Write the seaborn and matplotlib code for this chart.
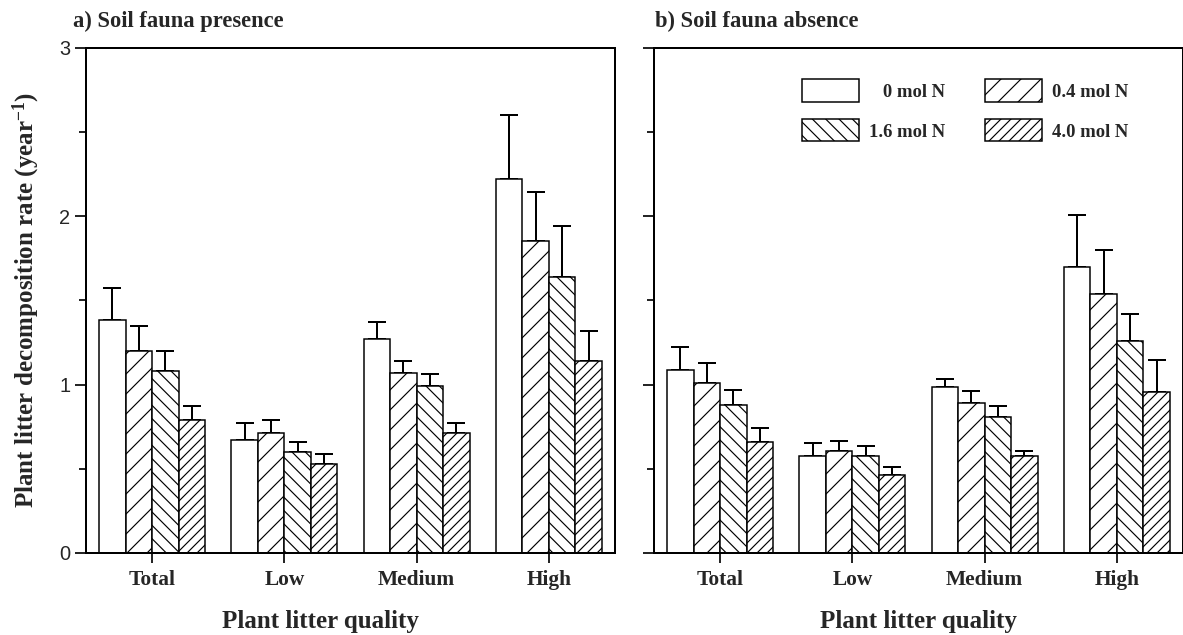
import numpy as np
import pandas as pd
import matplotlib
matplotlib.use("Agg")
import matplotlib.pyplot as plt
import seaborn as sns

# ---------------- data ----------------
categories = ["Total", "Low", "Medium", "High"]
levels = ["0 mol N", "0.4 mol N", "1.6 mol N", "4.0 mol N"]
legend_labels = ["   0 mol N", "0.4 mol N", "1.6 mol N", "4.0 mol N"]

presence_mean = {
    "0 mol N":   [1.38, 0.67, 1.27, 2.22],
    "0.4 mol N": [1.20, 0.71, 1.07, 1.85],
    "1.6 mol N": [1.08, 0.60, 0.99, 1.64],
    "4.0 mol N": [0.79, 0.53, 0.71, 1.14],
}
presence_se = {
    "0 mol N":   [0.19, 0.10, 0.10, 0.38],
    "0.4 mol N": [0.145, 0.08, 0.07, 0.29],
    "1.6 mol N": [0.12, 0.06, 0.07, 0.30],
    "4.0 mol N": [0.08, 0.06, 0.06, 0.18],
}
absence_mean = {
    "0 mol N":   [1.085, 0.575, 0.985, 1.695],
    "0.4 mol N": [1.01, 0.605, 0.89, 1.535],
    "1.6 mol N": [0.88, 0.573, 0.81, 1.26],
    "4.0 mol N": [0.66, 0.463, 0.577, 0.955],
}
absence_se = {
    "0 mol N":   [0.14, 0.08, 0.05, 0.31],
    "0.4 mol N": [0.12, 0.06, 0.07, 0.265],
    "1.6 mol N": [0.085, 0.062, 0.065, 0.16],
    "4.0 mol N": [0.08, 0.05, 0.028, 0.19],
}

panel_titles = ["a) Soil fauna presence", "b) Soil fauna absence"]
xlabel = "Plant litter quality"
ylabel = "Plant litter decomposition rate (year$^{-1}$)"

# ---------------- style ----------------
sns.set_style("ticks")
plt.rcParams["font.family"] = ["Liberation Serif", "DejaVu Serif"]
plt.rcParams["mathtext.fontset"] = "custom"
plt.rcParams["mathtext.rm"] = "Liberation Serif:bold"
plt.rcParams["mathtext.it"] = "Liberation Serif:bold"
plt.rcParams["mathtext.bf"] = "Liberation Serif:bold"
plt.rcParams["hatch.linewidth"] = 0.7
plt.rcParams["hatch.color"] = "black"

hatches = ["", "//", "\\\\\\", "////"]
serif_bold = dict(family="Liberation Serif", weight="bold")

DPI = 120
W, H = 1183, 635
fig = plt.figure(figsize=(W / DPI, H / DPI), dpi=DPI)

ax_w = 529 / W
ax_h = (553 - 47.5) / H
bottom = (H - 553) / H
axes = [fig.add_axes([86 / W, bottom, ax_w, ax_h]),
        fig.add_axes([654 / W, bottom, ax_w, ax_h])]

datasets = [(presence_mean, presence_se), (absence_mean, absence_se)]
xlabel_x = [0.443, 0.5]

for k, (ax, (means, ses)) in enumerate(zip(axes, datasets)):
    rows = []
    for lev in levels:
        for c, m in zip(categories, means[lev]):
            rows.append({"quality": c, "N": lev, "rate": m})
    df = pd.DataFrame(rows)
    sns.barplot(data=df, x="quality", y="rate", hue="N", order=categories,
                hue_order=levels, palette=["white"] * 4, edgecolor="black",
                linewidth=0.9, width=0.8, errorbar=None, legend=False,
                saturation=1, ax=ax)
    for i, (cont, lev) in enumerate(zip(ax.containers, levels)):
        xs, ys = [], []
        for p in cont.patches:
            p.set_hatch(hatches[i])
            p.set_edgecolor("black")
            p.set_zorder(2)
            xs.append(p.get_x() + p.get_width() / 2)
            ys.append(p.get_height())
        err = ses[lev]
        ax.errorbar(xs, ys, yerr=[np.zeros(len(err)), err], fmt="none",
                    ecolor="black", elinewidth=1.2, capsize=5.4,
                    capthick=1.2, zorder=1)

    ax.set_ylim(0, 3)
    ax.set_xlim(-0.5, 3.5)
    ax.set_yticks([0, 1, 2, 3])
    ax.set_yticks([0.5, 1.5, 2.5], minor=True)
    ax.tick_params(axis="y", which="major", direction="out", length=6.5,
                   width=1.2, labelsize=12, pad=3)
    ax.tick_params(axis="y", which="minor", direction="out", length=4,
                   width=1.2)
    ax.tick_params(axis="x", which="major", direction="out", length=6,
                   width=1.2, pad=4)
    for lab in ax.get_yticklabels():
        lab.set_family("Liberation Sans")
    for lab in ax.get_xticklabels():
        lab.set_fontproperties(dict(serif_bold, size=12.8))
    if k == 1:
        ax.set_yticklabels([])
    for sp in ax.spines.values():
        sp.set_visible(True)
        sp.set_linewidth(1.2)
        sp.set_color("black")
    ax.set_ylabel("")
    ax.set_xlabel(xlabel, fontsize=15, **serif_bold)
    ax.xaxis.set_label_coords(xlabel_x[k], -0.113)

order = [0, 2, 1, 3]
axes[1].legend([axes[1].containers[i] for i in order],
               [legend_labels[i] for i in order], ncol=2, frameon=False,
               loc="upper left", bbox_to_anchor=(0.28, 0.937),
               borderaxespad=0, borderpad=0,
               prop=dict(serif_bold, size=11.2),
               handlelength=3.05, handleheight=1.45, labelspacing=0.95,
               columnspacing=2.1, handletextpad=0.55)

fig.text(73 / W, 1 - 21 / H, panel_titles[0], ha="left", va="center",
         fontsize=13.5, **serif_bold)
fig.text(655 / W, 1 - 21 / H, panel_titles[1], ha="left", va="center",
         fontsize=13.5, **serif_bold)
fig.text(26 / W, 1 - 300 / H, ylabel, rotation=90, ha="center",
         va="center", fontsize=15, **serif_bold)

fig.savefig("out.png", dpi=DPI)
